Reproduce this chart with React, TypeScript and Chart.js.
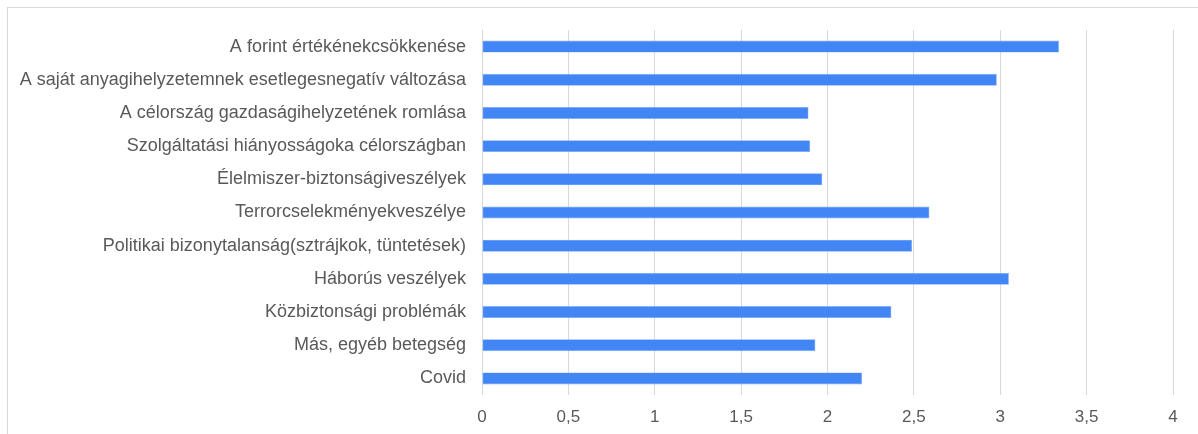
import React, { useEffect, useRef } from "react";
import { Chart, registerables } from "chart.js";

Chart.register(...registerables);

const categories: string[] = [
  "A forint értékénekcsökkenése",
  "A saját anyagihelyzetemnek esetlegesnegatív változása",
  "A célország gazdaságihelyzetének romlása",
  "Szolgáltatási hiányosságoka célországban",
  "Élelmiszer-biztonságiveszélyek",
  "Terrorcselekményekveszélye",
  "Politikai bizonytalanság(sztrájkok, tüntetések)",
  "Háborús veszélyek",
  "Közbiztonsági problémák",
  "Más, egyéb betegség",
  "Covid",
];

const values: number[] = [3.34, 2.98, 1.89, 1.9, 1.97, 2.59, 2.49, 3.05, 2.37, 1.93, 2.2];

const xMin = 0;
const xMax = 4;
const xStep = 0.5;

const fontFamily = "'Liberation Sans', Arial, sans-serif";
const textColor = "#595959";

export default function App() {
  const canvasRef = useRef<HTMLCanvasElement | null>(null);

  useEffect(() => {
    if (!canvasRef.current) return;
    const chart = new Chart(canvasRef.current, {
      type: "bar",
      data: {
        labels: categories,
        datasets: [
          {
            data: values,
            backgroundColor: "#4285F4",
            borderColor: "#7eaaf7",
            borderWidth: 0.6,
            borderSkipped: false,
            barPercentage: 0.36,
            categoryPercentage: 1,
          },
        ],
      },
      options: {
        indexAxis: "y",
        animation: false,
        responsive: false,
        maintainAspectRatio: false,
        layout: { padding: { top: 30, right: 25, left: 0, bottom: 0 } },
        plugins: {
          legend: { display: false },
          tooltip: { enabled: false },
        },
        scales: {
          x: {
            min: xMin,
            max: xMax,
            grid: { color: "#d9d9d9", lineWidth: 1, drawTicks: false },
            border: { display: false },
            ticks: {
              stepSize: xStep,
              padding: 12,
              color: textColor,
              font: { family: fontFamily, size: 17 },
              callback: (v: any) => String(v).replace(".", ","),
            },
            afterFit: (s: any) => {
              s.height = 39;
            },
          },
          y: {
            grid: { display: false, drawTicks: false },
            border: { display: false },
            ticks: {
              padding: 16,
              color: textColor,
              font: { family: fontFamily, size: 18 },
              autoSkip: false,
            },
            afterFit: (s: any) => {
              s.width = 482;
            },
          },
        },
      },
    });
    return () => chart.destroy();
  }, []);

  return (
    <div
      style={{
        position: "absolute",
        left: 0,
        top: 0,
        width: 1198,
        height: 434,
        overflow: "hidden",
        background: "#ffffff",
      }}
    >
      <div
        style={{
          position: "absolute",
          left: 7,
          top: 7,
          width: 1300,
          height: 600,
          borderTop: "1px solid #d9d9d9",
          borderLeft: "1px solid #d9d9d9",
        }}
      />
      <canvas
        ref={canvasRef}
        width={1198}
        height={434}
        style={{ position: "absolute", left: 0, top: 0, width: 1198, height: 434 }}
      />
    </div>
  );
}
